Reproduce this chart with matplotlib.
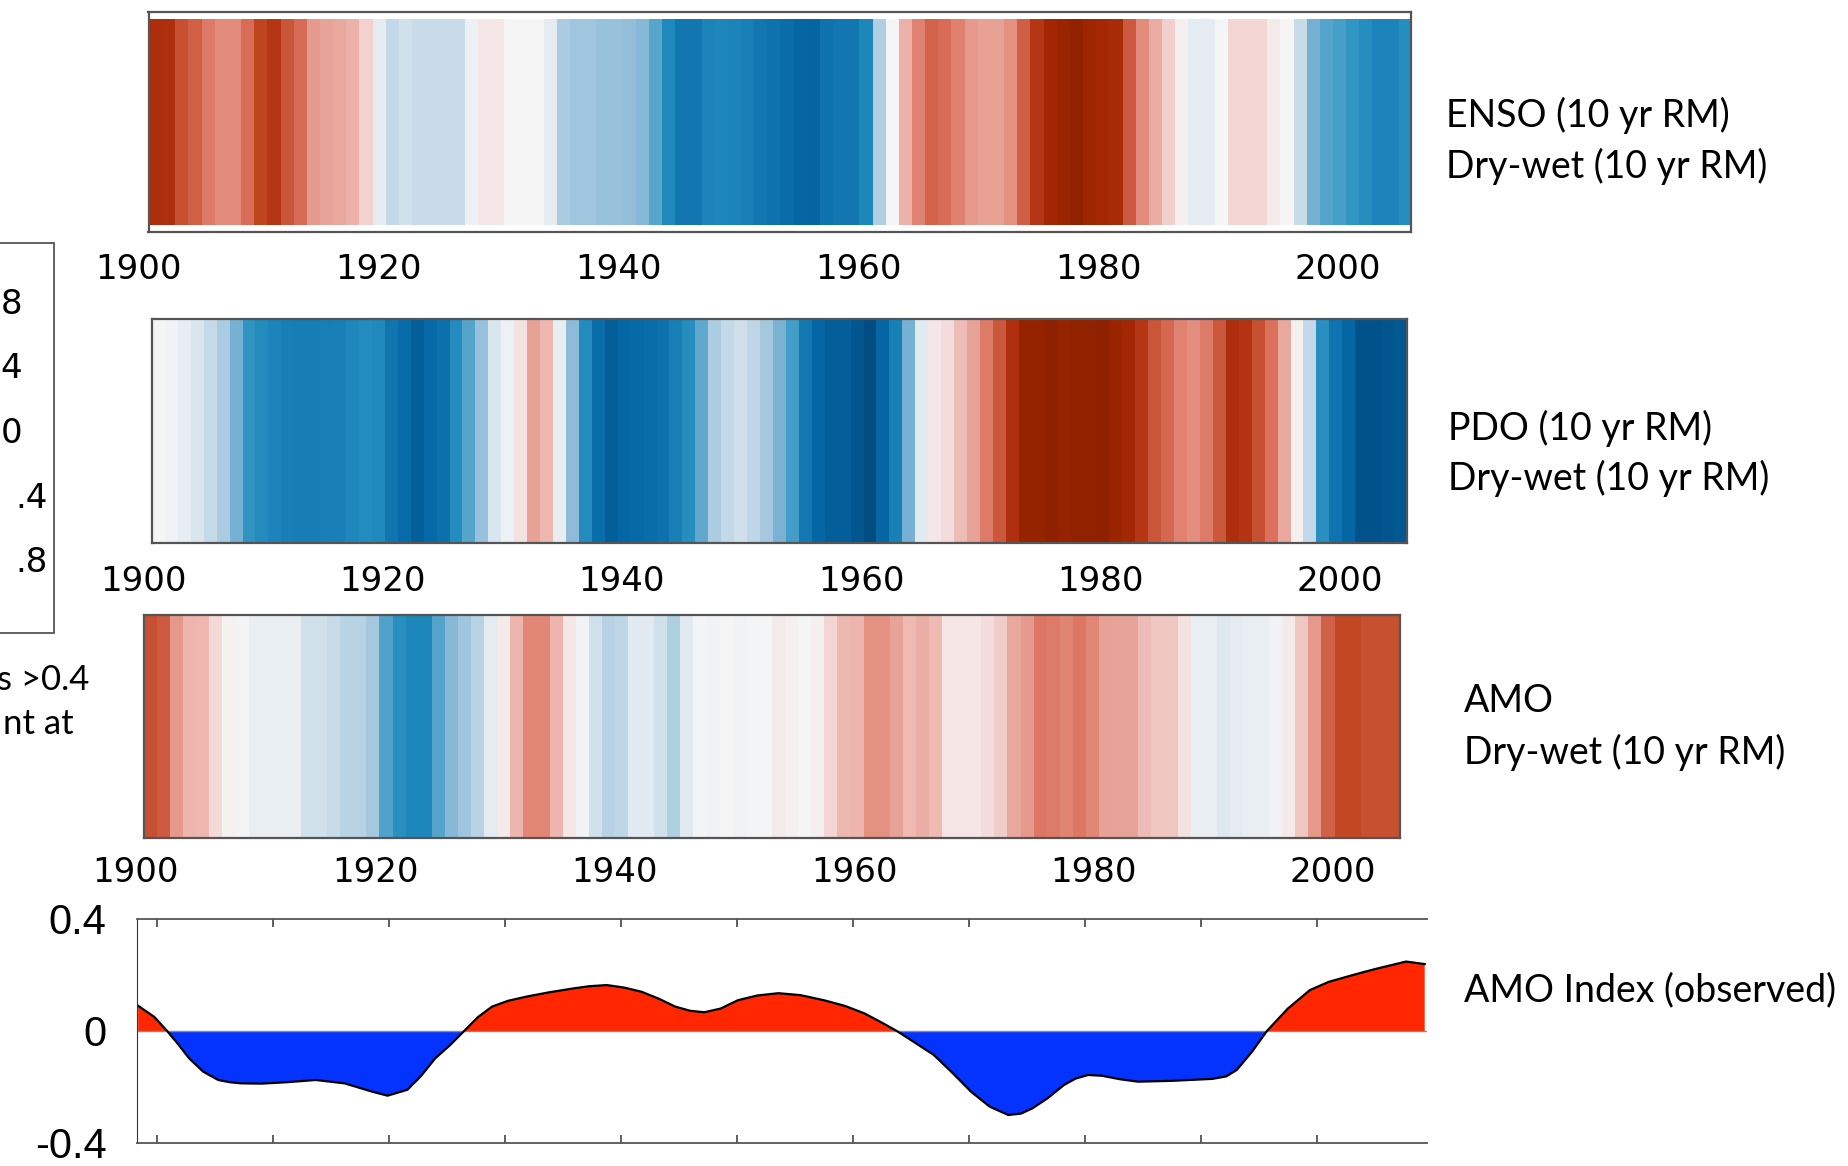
import numpy as np
import matplotlib
matplotlib.use("Agg")
import matplotlib.pyplot as plt
from matplotlib.colors import LinearSegmentedColormap, Normalize
from matplotlib.patches import Rectangle

# stripe values (one per stripe, left to right)
enso = [0.78, 0.77, 0.6, 0.52, 0.4, 0.35, 0.35, 0.45, 0.65, 0.72, 0.57, 0.46, 0.3, 0.27, 0.25, 0.22,
        0.11, -0.06, -0.17, -0.12, -0.15, -0.15, -0.15, -0.15, -0.03, 0.05, 0.05, 0.0, 0.0, 0.0,
        -0.06, -0.25, -0.28, -0.28, -0.3, -0.3, -0.32, -0.35, -0.43, -0.58, -0.66, -0.66, -0.6,
        -0.59, -0.6, -0.62, -0.66, -0.69, -0.72, -0.76, -0.77, -0.69, -0.66, -0.66, -0.59, -0.22,
        0.0, 0.22, 0.38, 0.5, 0.46, 0.39, 0.3, 0.28, 0.28, 0.33, 0.52, 0.72, 0.84, 0.88, 0.93,
        0.86, 0.83, 0.8, 0.55, 0.35, 0.24, 0.12, 0.03, -0.06, -0.06, 0.0, 0.1, 0.1, 0.1, 0.04,
        0.0, -0.15, -0.38, -0.44, -0.47, -0.52, -0.56, -0.6, -0.6, -0.56]

pdo = [0.0, -0.02, -0.05, -0.09, -0.16, -0.25, -0.38, -0.53, -0.57, -0.6, -0.62, -0.63, -0.63,
       -0.62, -0.61, -0.59, -0.57, -0.58, -0.67, -0.74, -0.8, -0.75, -0.71, -0.57, -0.44, -0.3,
       -0.09, -0.03, 0.07, 0.28, 0.2, -0.04, -0.33, -0.57, -0.72, -0.8, -0.76, -0.75, -0.72, -0.7,
       -0.62, -0.56, -0.42, -0.24, -0.17, -0.13, -0.18, -0.26, -0.37, -0.48, -0.65, -0.76, -0.8,
       -0.8, -0.84, -0.9, -0.76, -0.61, -0.38, -0.07, 0.05, 0.08, 0.18, 0.27, 0.4, 0.56, 0.76,
       0.9, 0.9, 0.95, 0.9, 0.93, 0.93, 0.95, 0.88, 0.83, 0.72, 0.57, 0.47, 0.38, 0.34, 0.4, 0.56,
       0.78, 0.74, 0.6, 0.43, 0.25, 0.03, -0.17, -0.55, -0.68, -0.76, -0.86, -0.86, -0.85, -0.83]

amo = [0.6, 0.54, 0.31, 0.21, 0.2, 0.09, 0.02, -0.01, -0.04, -0.04, -0.04, -0.04, -0.12, -0.12,
       -0.15, -0.2, -0.21, -0.26, -0.45, -0.55, -0.59, -0.59, -0.44, -0.35, -0.28, -0.2, -0.06,
       0.04, 0.21, 0.36, 0.36, 0.21, 0.05, -0.02, -0.12, -0.21, -0.18, -0.07, -0.07, -0.12, -0.22,
       -0.07, -0.01, -0.02, 0.0, -0.02, -0.01, 0.0, 0.04, 0.03, 0.0, 0.03, 0.1, 0.2, 0.21, 0.33,
       0.33, 0.27, 0.19, 0.23, 0.19, 0.06, 0.06, 0.06, 0.08, 0.13, 0.25, 0.3, 0.42, 0.4, 0.37,
       0.42, 0.36, 0.28, 0.27, 0.27, 0.18, 0.15, 0.15, 0.07, -0.04, -0.04, -0.08, -0.06, -0.04,
       -0.04, -0.02, 0.04, 0.15, 0.31, 0.51, 0.64, 0.64, 0.6, 0.6, 0.6]

year_ticks = [1900, 1920, 1940, 1960, 1980, 2000]

# observed AMO index
amo_years = [1898.4, 1899.8, 1900.9, 1901.9, 1902.8, 1904.0, 1905.3, 1906.3, 1907.3, 1909.0, 1911.2,
             1913.7, 1916.2, 1918.6, 1919.9, 1921.6, 1922.8, 1924.0, 1925.3, 1926.5, 1927.7, 1928.9,
             1930.3, 1931.9, 1933.8, 1935.9, 1937.3, 1938.8, 1940.3, 1941.8, 1943.3, 1944.7, 1946.0,
             1947.2, 1948.6, 1950.1, 1951.8, 1953.6, 1955.5, 1957.5, 1959.3, 1961.0, 1962.5, 1963.8,
             1965.3, 1967.0, 1968.6, 1970.2, 1971.8, 1973.4, 1974.5, 1975.5, 1976.8, 1978.2, 1979.2,
             1980.3, 1981.5, 1983.0, 1984.6, 1987.5, 1991.0, 1992.2, 1993.1, 1994.4, 1995.7, 1997.5,
             1999.4, 2001.0, 2002.6, 2004.0, 2005.3, 2007.7, 2009.3]
amo_index = [0.09, 0.05, 0.0, -0.05, -0.098, -0.145, -0.175, -0.183, -0.187, -0.188, -0.183,
             -0.175, -0.187, -0.217, -0.231, -0.21, -0.16, -0.098, -0.05, 0.0, 0.05, 0.087,
             0.108, 0.123, 0.138, 0.152, 0.16, 0.164, 0.155, 0.14, 0.115, 0.087, 0.072,
             0.067, 0.08, 0.11, 0.127, 0.135, 0.128, 0.11, 0.09, 0.063, 0.03, 0.0,
             -0.04, -0.086, -0.15, -0.217, -0.27, -0.3, -0.295, -0.276, -0.24, -0.193, -0.17,
             -0.157, -0.16, -0.172, -0.181, -0.178, -0.171, -0.162, -0.139, -0.075, 0.0, 0.08,
             0.146, 0.175, 0.194, 0.21, 0.224, 0.248, 0.239]

# stripe colour scale
cmap_pos = [-1.0, -0.85, -0.75, -0.65, -0.58, -0.5, -0.42, -0.35, -0.27, -0.18, -0.1, -0.03,
            0.0, 0.04, 0.1, 0.2, 0.28, 0.35, 0.45, 0.55, 0.65, 0.75, 0.85, 1.0]
cmap_col = ['#00416f', '#02558e', '#066aa8', '#1479b3', '#2089bd', '#3a9bc8', '#60a8ce', '#88b8d7',
            '#a3c7df', '#c0d7e7', '#d8e5ef', '#edf1f5', '#f6f6f6', '#f6ecec', '#f3d6d4', '#eeb8b1',
            '#e8a195', '#e48c7c', '#da6d58', '#cd5a40', '#c0461f', '#b23212', '#a02600', '#852000']
cmap = LinearSegmentedColormap.from_list(
    "stripes", [((p + 1) / 2, c) for p, c in zip(cmap_pos, cmap_col)])
norm = Normalize(-1, 1)

W, H = 1848, 1166
fig = plt.figure(figsize=(W / 100, H / 100), dpi=100)


def box(l, t, r, b):
    # pixel box -> figure fraction rect
    return [l / W, 1 - b / H, (r - l) / W, (b - t) / H]


def stripes(rect, vals, xlim, ymargin, label_y):
    ax = fig.add_axes(rect)
    ax.imshow(np.array(vals)[np.newaxis, :], cmap=cmap, norm=norm, aspect='auto',
              extent=(xlim[0], xlim[1], 0, 1), interpolation='nearest')
    ax.set_xticks([])
    ax.set_yticks([])
    ax.set_xlim(xlim)
    ax.set_ylim(-ymargin, 1 + ymargin)
    # year labels (1900 lies just left of the frame, so drawn as text)
    for yr in year_ticks:
        ax.text(yr, label_y, str(yr), transform=ax.get_xaxis_transform(), ha='center',
                va='center', fontsize=24.5, family='DejaVu Sans', clip_on=False)
    for s in ax.spines.values():
        s.set_color('#555555')
        s.set_linewidth(1.6)
    return ax


stripes(box(148.5, 11.8, 1411, 232), enso, (1900.8, 2006.1), 0.035, -0.17)
stripes(box(152, 319, 1407, 543), pdo, (1900.75, 2005.6), 0.0, -0.17)
stripes(box(144, 615, 1400, 838), amo, (1900.67, 2005.6), 0.0, -0.155)

# AMO index panel
ax = fig.add_axes(box(137, 919, 1427, 1143))
yrs = np.array(amo_years)
v = np.array(amo_index)
ax.fill_between(yrs, v, 0, where=v >= 0, interpolate=True, color='#ff2600', lw=0)
ax.fill_between(yrs, v, 0, where=v <= 0, interpolate=True, color='#0433ff', lw=0)
ax.axhline(0, color='#8a8a8a', lw=1.0)
ax.plot(yrs, v, color='black', lw=1.6)
ax.set_xlim(1898.3, 2009.5)
ax.set_ylim(-0.4, 0.4)
ax.set_xticks(np.arange(1900, 2001, 10))
ax.set_xlim(1898.3, 2009.5)
ax.tick_params(axis='x', which='both', direction='in', length=6, width=1.2, color='#444444',
               top=True, bottom=True, labelbottom=False)
ax.set_yticks([0.4, 0, -0.4])
ax.set_yticklabels(['0.4', '0', '-0.4'], fontsize=30,
                   family=['Liberation Sans Narrow', 'Liberation Sans'])
ax.tick_params(axis='y', length=0, pad=22)
ax.spines['right'].set_visible(False)
ax.spines['left'].set_color('#333333')
for s in ['top', 'bottom']:
    ax.spines[s].set_color('#555555')
    ax.spines[s].set_linewidth(1.3)

# series labels on the right
lab = dict(fontsize=27, family='Lato', va='center', ha='left')
fig.text(1446 / W, 1 - 115.5 / H, 'ENSO (10 yr RM)', **lab)
fig.text(1446 / W, 1 - 166 / H, 'Dry-wet (10 yr RM)', **lab)
fig.text(1448 / W, 1 - 428 / H, 'PDO (10 yr RM)', **lab)
fig.text(1448 / W, 1 - 478.5 / H, 'Dry-wet (10 yr RM)', **lab)
fig.text(1464 / W, 1 - 701 / H, 'AMO', **lab)
fig.text(1464 / W, 1 - 752 / H, 'Dry-wet (10 yr RM)', **lab)
fig.text(1464 / W, 1 - 990 / H, 'AMO Index (observed)', **lab)

# legend box cut off at the left edge: only the visible parts of its labels
fig.patches.append(Rectangle((-0.05, 1 - 633 / H), 0.05 + 54 / W, (633 - 243) / H,
                             transform=fig.transFigure, fill=False, ec='#555555', lw=1.3))
leg_labels = ['8', '4', '0', '.4', '.8']
leg_right = [22, 22, 22, 48, 48]
leg_y = [304, 369, 434, 498.5, 563]
for t, xr, yy in zip(leg_labels, leg_right, leg_y):
    fig.text(xr / W, 1 - yy / H, t, fontsize=24.5, family='DejaVu Sans', ha='right', va='center')
fig.text(89 / W, 1 - 680 / H, 's >0.4', fontsize=25, family='Lato', ha='right', va='center')
fig.text(74 / W, 1 - 724 / H, 'nt at', fontsize=25, family='Lato', ha='right', va='center')

fig.savefig('out.png', dpi=100)
